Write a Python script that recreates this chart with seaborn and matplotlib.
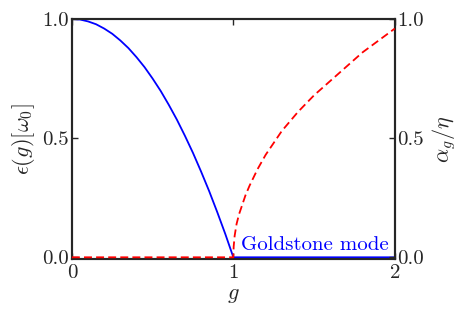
import numpy as np
import pandas as pd
import seaborn as sns
import matplotlib
matplotlib.use("Agg")
import matplotlib.pyplot as plt

## values
g_eps = [0.0, 0.05, 0.1, 0.15, 0.2, 0.25, 0.3, 0.35, 0.4, 0.45, 0.5, 0.55, 0.6,
         0.65, 0.7, 0.75, 0.8, 0.85, 0.9, 0.95, 1.0, 1.5, 2.0]
eps = [1.0, 0.998, 0.99, 0.978, 0.96, 0.938, 0.91, 0.878, 0.84, 0.798, 0.75,
       0.698, 0.64, 0.578, 0.51, 0.438, 0.36, 0.278, 0.19, 0.098, 0.0, 0.0, 0.0]

g_alpha = [0.0, 1.0, 1.002, 1.008, 1.02, 1.035, 1.05, 1.075, 1.1, 1.15, 1.2, 1.3,
           1.4, 1.5, 1.6, 1.7, 1.8, 1.9, 2.0]
alpha = [0.0, 0.0, 0.045, 0.09, 0.14, 0.18, 0.21, 0.26, 0.30, 0.37, 0.43, 0.53,
         0.61, 0.68, 0.74, 0.80, 0.86, 0.91, 0.96]

x_ticks = [0, 1, 2]
y_ticks = [0.0, 0.5, 1.0]

sns.set_style("ticks")
plt.rcParams.update({
    "font.family": "serif",
    "font.serif": ["cmr10", "DejaVu Serif"],
    "mathtext.fontset": "cm",
    "axes.formatter.use_mathtext": True,
    "font.size": 15,
    "xtick.direction": "in",
    "ytick.direction": "in",
    "xtick.top": True,
    "axes.linewidth": 1.5,
})

df_eps = pd.DataFrame({"g": g_eps, "eps": eps})
df_alpha = pd.DataFrame({"g": g_alpha, "alpha": alpha})

fig, ax = plt.subplots(figsize=(4.58, 3.12), dpi=100)
fig.subplots_adjust(left=0.157, right=0.862, top=0.939, bottom=0.17)

sns.lineplot(data=df_eps, x="g", y="eps", ax=ax, color="blue", lw=1.3,
             sort=False, estimator=None, clip_on=False, zorder=3)
ax.text(1.045, 0.014, "Goldstone mode", color="blue", fontsize=15, va="bottom")
ax.set_xlim(0, 2)
ax.set_ylim(-0.007, 1)
ax.set_xticks(x_ticks)
ax.set_xticklabels([str(t) for t in x_ticks])
ax.set_yticks(y_ticks)
ax.set_yticklabels(["%.1f" % t for t in y_ticks])
ax.set_xlabel("$g$", fontsize=16, labelpad=2)
ax.set_ylabel(r"$\epsilon(g)[\omega_0]$", fontsize=16)
ax.tick_params(length=4, width=1, pad=2)
ax.tick_params(axis="x", pad=4)

ax2 = ax.twinx()
sns.lineplot(data=df_alpha, x="g", y="alpha", ax=ax2, color="red", lw=1.3,
             sort=False, estimator=None, clip_on=False, dashes=False, zorder=3)
ax2.lines[0].set_dashes((4.4, 2.3))
ax2.set_ylim(-0.007, 1)
ax2.set_yticks(y_ticks)
ax2.set_yticklabels(["%.1f" % t for t in y_ticks])
ax2.set_ylabel(r"$\alpha_g/\eta$", fontsize=16)
ax2.tick_params(length=4, width=1, pad=2, direction="in")

plt.savefig("out.png", dpi=100)
